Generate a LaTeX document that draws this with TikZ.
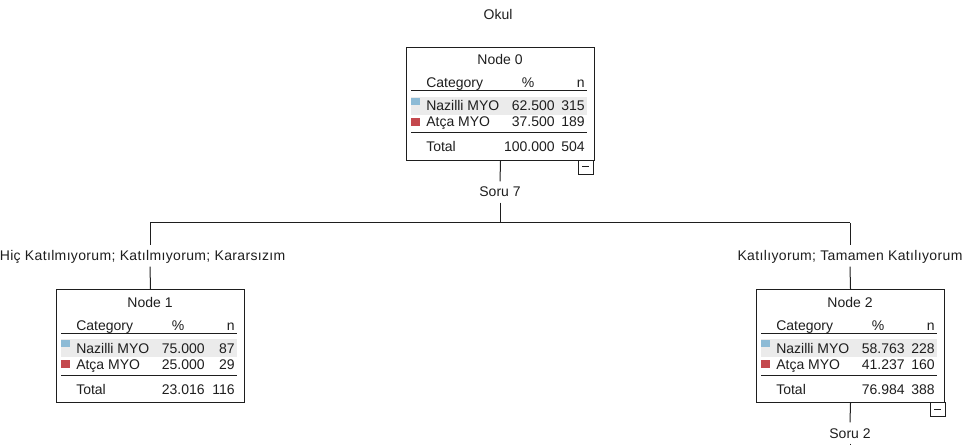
\documentclass[tikz,border=0pt]{standalone}
\usepackage{fontspec}
\setmainfont{Liberation Sans}
\newfontfamily\spacedfont[LetterSpace=2.5]{Liberation Sans}
\definecolor{catblue}{RGB}{141,187,214}
\definecolor{catred}{RGB}{196,72,77}
\definecolor{rowbg}{RGB}{235,235,235}
\definecolor{ink}{RGB}{30,30,30}
\tikzset{
  boxnode/.style={draw=ink, line width=0.75pt, anchor=north west, minimum width=141pt, minimum height=84.75pt, inner sep=0pt},
  txt/.style={font=\fontsize{10.5}{12}\selectfont, inner sep=0pt, text height=7.5pt, text depth=0pt, text=ink},
  lbl/.style={txt, inner sep=4pt},
  widelbl/.style={lbl, font=\spacedfont\fontsize{10.5}{12}\selectfont},
  rule/.style={draw=ink, line width=0.75pt},
  conn/.style={draw=ink, line width=0.75pt},
  minusbox/.style={draw=ink, line width=0.75pt, anchor=north west, minimum width=11pt, minimum height=10.5pt, inner sep=0pt}
}
\newcommand\treenode[8]{%
  \node[boxnode] (#1) at (#2,#3) {};
  \begin{scope}[shift={(#2,#3)}]
    \fill[rowbg] (5,50) rectangle (181,68);
    \node[txt] (#1title) at (94,13) {#4};
    \node[txt,anchor=west] (#1hc) at (20,36) {Category};
    \node[txt] (#1hp) at (122,36) {\%};
    \node[txt,anchor=east] (#1hn) at (179,36) {n};
    \draw[rule] (5,44) -- (181,44);
    \fill[catblue] (5,51) rectangle (14,58);
    \node[txt,anchor=west] (#1ca) at (20,59) {Nazilli MYO};
    \node[txt,anchor=east] (#1pa) at (149,59) {#5};
    \node[txt,anchor=east] (#1na) at (179,59) {#6};
    \fill[catred] (5,71) rectangle (14,79);
    \node[txt,anchor=west] (#1cb) at (20,75) {Atça MYO};
    \node[txt,anchor=east] (#1pb) at (149,75) {#7};
    \node[txt,anchor=east] (#1nb) at (179,75) {#8};
    \draw[rule] (5,86) -- (181,86);
  \end{scope}}
\newcommand\totalrow[5]{%
  \begin{scope}[shift={(#2,#3)}]
    \node[txt,anchor=west] (#1tl) at (20,100) {Total};
    \node[txt,anchor=east] (#1tp) at (149,100) {#4};
    \node[txt,anchor=east] (#1tn) at (179,100) {#5};
  \end{scope}}
\begin{document}
\begin{tikzpicture}[x=0.75pt,y=-0.75pt]
  \useasboundingbox (0,0) rectangle (963,445);
  \node[txt] (title) at (498,15) {Okul};
  % Node 0
  \treenode{n0}{406}{47}{Node 0}{62.500}{315}{37.500}{189}
  \totalrow{n0}{406}{47}{100.000}{504}
  \node[minusbox] (n0m) at (578,160) {};
  \draw[rule] (582,167) -- (589,167);
  % Node 1
  \treenode{n1}{56}{289}{Node 1}{75.000}{87}{25.000}{29}
  \totalrow{n1}{56}{289}{23.016}{116}
  % Node 2
  \treenode{n2}{756}{289}{Node 2}{58.763}{228}{41.237}{160}
  \totalrow{n2}{756}{289}{76.984}{388}
  \node[minusbox] (n2m) at (930,402) {};
  \draw[rule] (934,409) -- (941,409);
  % connectors
  \node[lbl] (soru7) at (500,192) {Soru 7};
  \coordinate (split) at (500,223);
  \coordinate (bl) at (150,223);
  \coordinate (br) at (850,223);
  \draw[conn] (n0.south) -- (soru7.north);
  \draw[conn] (soru7.south) -- (split);
  \draw[conn] (bl) -- (br);
  \node[widelbl,anchor=east] (lab1) at (291,256) {Hiç Katılmıyorum; Katılmıyorum; Kararsızım};
  \node[widelbl] (lab2) at (850,256) {Katılıyorum; Tamamen Katılıyorum};
  \draw[conn] (bl) -- (bl |- lab1.north);
  \draw[conn] (bl |- lab1.south) -- (n1.north);
  \draw[conn] (br) -- (lab2.north);
  \draw[conn] (lab2.south) -- (n2.north);
  \node[lbl] (soru2) at (850,433) {Soru 2};
  \coordinate (down2) at (850,445);
  \draw[conn] (n2.south) -- (soru2.north);
  \draw[conn] (soru2.south) -- (down2);
\end{tikzpicture}
\end{document}
